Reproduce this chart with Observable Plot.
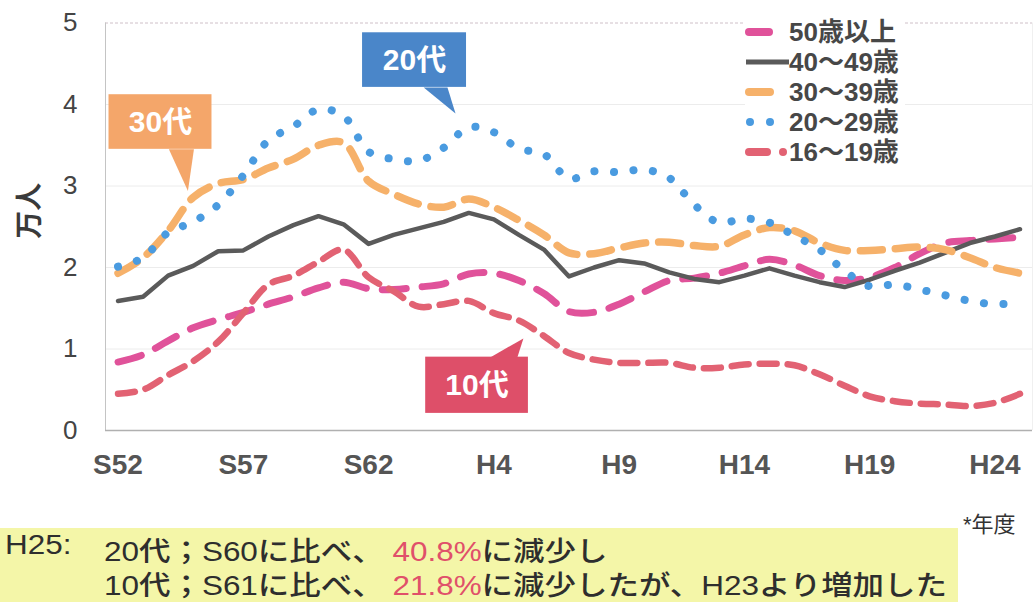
<!DOCTYPE html>
<html><head><meta charset="utf-8">
<script src="https://cdn.jsdelivr.net/npm/d3@7"></script>
<script src="https://cdn.jsdelivr.net/npm/@observablehq/plot@0.6"></script>
<style>
body{margin:0;background:#fff;width:1035px;height:602px;overflow:hidden;font-family:"Liberation Sans","Noto Sans CJK JP",sans-serif;}
#wrap{position:relative;width:1035px;height:602px;}
#chart{position:absolute;left:0;top:0;}
#legend{position:absolute;left:745px;top:17px;background:#fff;padding:0 6px 0 0;}
.row{display:flex;align-items:center;height:30px;font-weight:bold;font-size:26px;color:#474747;line-height:30px;}
.row svg{display:block;}
#nendo{position:absolute;left:963px;top:506px;font-size:22px;color:#333;}
#band{position:absolute;left:0;top:528px;width:958px;height:74px;background:#f4f6a8;}
.ln{position:absolute;font-size:27px;font-weight:500;color:#2e2e2e;white-space:nowrap;transform-origin:left center;transform:scaleX(1.165);}
.red{color:#e0506a;}
</style></head>
<body><div id="wrap">
<div id="chart"></div>
<div id="legend"></div>
<div id="nendo">*年度</div>
<div id="band"></div>
<div class="ln" style="left:5px;top:530px;">H25:</div>
<div class="ln" id="l1" style="left:104px;top:530px;"></div>
<div class="ln" id="l2" style="left:104px;top:564px;"></div>
</div>
<script>
const years = [1977,1978,1979,1980,1981,1982,1983,1984,1985,1986,1987,1988,1989,1990,1991,1992,1993,1994,1995,1996,1997,1998,1999,2000,2001,2002,2003,2004,2005,2006,2007,2008,2009,2010,2011,2012,2013];
const tickYears = [1977,1982,1987,1992,1997,2002,2007,2012];
const tickLabels = ["S52","S57","S62","H4","H9","H14","H19","H24"];
const yTicks = [0,1,2,3,4,5];

const seriesNames = ["50歳以上","40～49歳","30～39歳","20～29歳","16～19歳"];
const s50 = [0.84,0.93,1.10,1.26,1.36,1.45,1.55,1.64,1.75,1.82,1.74,1.73,1.76,1.80,1.92,1.93,1.84,1.68,1.46,1.45,1.55,1.70,1.84,1.87,1.93,2.02,2.10,2.03,1.90,1.84,1.88,2.00,2.17,2.30,2.33,2.35,2.37];
const s40 = [1.59,1.64,1.90,2.02,2.20,2.21,2.38,2.52,2.63,2.53,2.29,2.40,2.48,2.56,2.67,2.59,2.40,2.22,1.89,2.00,2.09,2.05,1.94,1.86,1.82,1.90,1.99,1.90,1.82,1.76,1.85,1.96,2.06,2.18,2.30,2.38,2.47];
const s30 = [1.93,2.12,2.45,2.86,3.03,3.08,3.22,3.33,3.50,3.53,3.06,2.90,2.78,2.74,2.84,2.74,2.58,2.40,2.18,2.17,2.24,2.30,2.31,2.27,2.26,2.40,2.49,2.45,2.30,2.21,2.21,2.23,2.25,2.22,2.12,2.00,1.93];
const s20 = [2.01,2.12,2.43,2.56,2.77,3.13,3.56,3.73,3.94,3.86,3.42,3.33,3.31,3.47,3.72,3.66,3.46,3.39,3.09,3.18,3.17,3.20,3.10,2.77,2.55,2.60,2.55,2.39,2.22,1.96,1.77,1.79,1.73,1.66,1.59,1.55,1.57];
const s16 = [0.45,0.50,0.68,0.85,1.09,1.44,1.79,1.90,2.07,2.22,1.88,1.71,1.52,1.55,1.59,1.44,1.35,1.16,0.95,0.87,0.83,0.83,0.83,0.77,0.77,0.81,0.82,0.80,0.69,0.55,0.42,0.36,0.33,0.32,0.30,0.34,0.45];

const seriesValues = [s50, s40, s30, s20, s16];
const seriesColors = ["#e0529a","#5a5a5a","#f6b16a","#4a9be0","#e26273"];
const seriesWidths = [7, 4.5, 7.5, 8, 6.5];
const seriesDash = ["24 16","none","22 13","0.1 19.5","17 11"];
const seriesCurve = ["catmull-rom","linear","catmull-rom","catmull-rom","catmull-rom"];

const calloutLabels = ["30代","20代","10代"];
const calloutColors = ["#f4a66a","#4a86c9","#de4f69"];
const calloutX1 = [1976.64, 1986.76, 1989.28];
const calloutX2 = [1980.75, 1990.91, 1993.38];
const calloutY1 = [3.45, 4.21, 0.21];
const calloutY2 = [4.12, 4.88, 0.90];
const calloutTails = [
  [[1979.03,3.45],[1979.79,2.94],[1980.03,3.45]],
  [[1989.20,4.21],[1990.47,3.89],[1990.15,4.21]],
  [[1991.87,0.90],[1993.18,1.13],[1992.94,0.90]]
];

const font = '"Liberation Sans","Noto Sans CJK JP",sans-serif';

const lineMarks = seriesValues.map((vals, k) => Plot.line(
  years.map((yr, i) => ({year: yr, value: vals[i]})),
  {x: "year", y: "value", stroke: seriesColors[k], strokeWidth: seriesWidths[k],
   strokeDasharray: seriesDash[k] === "none" ? undefined : seriesDash[k],
   strokeLinecap: "round", strokeLinejoin: "round", curve: seriesCurve[k]}
));

const callouts = calloutLabels.map((l, i) => ({label: l, color: calloutColors[i], x1: calloutX1[i], x2: calloutX2[i], y1: calloutY1[i], y2: calloutY2[i]}));
const tailMarks = calloutTails.map((pts, i) => Plot.line(pts, {x: d => d[0], y: d => d[1], fill: calloutColors[i], stroke: "none", curve: "linear-closed"}));

const chart = Plot.plot({
  width: 1035, height: 500,
  marginLeft: 105, marginRight: 3, marginTop: 22.5, marginBottom: 70,
  x: {domain: [1976.5, 2013.5]},
  y: {domain: [0, 5]},
  style: {fontFamily: font, background: "transparent", overflow: "visible"},
  marks: [
    Plot.ruleY([1,2,3,4], {stroke: "#ececec", strokeWidth: 1}),
    Plot.ruleY([5], {stroke: "#cfc0c8", strokeWidth: 1, strokeDasharray: "3 2"}),
    Plot.ruleX([1976.5], {stroke: "#c4c4c4", strokeWidth: 1}),
    Plot.ruleX([2013.5], {stroke: "#f0f0f0", strokeWidth: 1}),
    Plot.ruleY([0], {stroke: "#b0b0b0", strokeWidth: 1.5}),
    Plot.axisX({ticks: tickYears, tickFormat: d => tickLabels[tickYears.indexOf(d)], tickSize: 0, tickPadding: 24, fontSize: 28, fontWeight: "bold", color: "#555", label: null}),
    Plot.axisY({ticks: yTicks, tickFormat: d => String(d), tickSize: 0, tickPadding: 28, fontSize: 26, color: "#444", label: null}),
    Plot.text(["万人"], {frameAnchor: "left", text: d => d, dx: -75, dy: 12, rotate: -90, fontSize: 28, fontWeight: "bold", fill: "#3a3a3a"}),
    ...lineMarks,
    Plot.rect(callouts, {x1: "x1", x2: "x2", y1: "y1", y2: "y2", fill: "color"}),
    ...tailMarks,
    Plot.text(callouts, {x: d => (d.x1 + d.x2) / 2, y: d => (d.y1 + d.y2) / 2, text: "label", fill: "white", fontSize: 30, fontWeight: "bold"})
  ]
});
document.getElementById("chart").appendChild(chart);

// legend
const legend = document.getElementById("legend");
const swatches = [
  `<line x1="4" y1="10" x2="24" y2="10" stroke="${seriesColors[0]}" stroke-width="8" stroke-linecap="round"/>`,
  `<line x1="1" y1="10" x2="44" y2="10" stroke="${seriesColors[1]}" stroke-width="5"/>`,
  `<line x1="4" y1="10" x2="25" y2="10" stroke="${seriesColors[2]}" stroke-width="8" stroke-linecap="round"/>`,
  `<circle cx="5" cy="10" r="4" fill="${seriesColors[3]}"/><circle cx="25" cy="10" r="4" fill="${seriesColors[3]}"/>`,
  `<line x1="4" y1="10" x2="22" y2="10" stroke="${seriesColors[4]}" stroke-width="8" stroke-linecap="round"/><circle cx="38" cy="10" r="4" fill="${seriesColors[4]}"/>`
];
seriesNames.forEach((n, k) => {
  const row = document.createElement("div");
  row.className = "row";
  row.innerHTML = `<svg width="44" height="20">${swatches[k]}</svg><span>${n}</span>`;
  legend.appendChild(row);
});

document.getElementById("l1").innerHTML = '20代；S60に比べ、 <span class="red">40.8%</span>に減少し';
document.getElementById("l2").innerHTML = '10代；S61に比べ、 <span class="red">21.8%</span>に減少したが、H23より増加した';
</script>
</body></html>
